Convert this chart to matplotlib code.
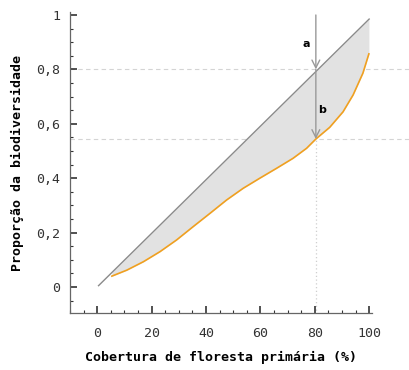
import matplotlib.pyplot as plt
from matplotlib.ticker import MultipleLocator, FuncFormatter

# diagonal reference line (proportional loss)
line_x = [0.5, 100]
line_y = [0.005, 0.985]

# observed curve
curve_x = [5.4, 10.9, 17.0, 23.1, 29.2, 35.3, 41.5, 47.6, 53.7, 59.8,
           65.9, 72.0, 77.0, 80.4, 85.5, 90.4, 94.1, 97.7, 99.9]
curve_y = [0.040, 0.062, 0.093, 0.130, 0.173, 0.222, 0.271, 0.320, 0.363, 0.400,
           0.436, 0.473, 0.510, 0.544, 0.587, 0.644, 0.706, 0.786, 0.857]

mark_x = 80.4
mark_top = 0.8
mark_low = 0.544

plt.rcParams['font.family'] = 'DejaVu Sans Mono'

fig = plt.figure(figsize=(4.1, 3.7), dpi=100)
ax = fig.add_axes([0.1707, 0.154, 0.7363, 0.8136])

# fill between diagonal and curve
diag = [line_y[0] + (x - line_x[0]) * (line_y[1] - line_y[0]) / (line_x[1] - line_x[0]) for x in curve_x]
ax.fill_between(curve_x, curve_y, diag, color='#e2e2e2', lw=0, zorder=1)
ax.plot(line_x, line_y, color='#8a8a8a', lw=1, zorder=3)
ax.plot(curve_x, curve_y, color='#f0a020', lw=1.2, zorder=3)

# reference lines
for yv in (mark_top, mark_low):
    ax.plot([-10, 115], [yv, yv], color='#d4d4d4', lw=0.8, ls=(0, (4, 3)), clip_on=False, zorder=0)
ax.plot([mark_x, mark_x], [-0.1, mark_low], color='#cfcfcf', lw=0.9, ls=(0, (1, 2)), zorder=0)

# arrows
arrow = dict(arrowstyle='->', color='#999999', lw=1, mutation_scale=14, shrinkA=0, shrinkB=0)
ax.annotate('', xy=(mark_x, mark_top), xytext=(mark_x, 1.0), arrowprops=arrow, zorder=4)
ax.annotate('', xy=(mark_x, mark_low), xytext=(mark_x, mark_top), arrowprops=arrow, zorder=4)
ax.text(77, 0.895, 'a', fontsize=8, fontweight='bold', family='DejaVu Sans', ha='center', va='center')
ax.text(82.8, 0.65, 'b', fontsize=8, fontweight='bold', family='DejaVu Sans', ha='center', va='center')

ax.set_xlim(-10, 101)
ax.set_ylim(-0.0956, 1.011)

ax.xaxis.set_major_locator(MultipleLocator(20))
ax.xaxis.set_minor_locator(MultipleLocator(5))
ax.yaxis.set_major_locator(MultipleLocator(0.2))
ax.yaxis.set_minor_locator(MultipleLocator(0.05))
ax.yaxis.set_major_formatter(FuncFormatter(lambda v, p: f"{v:.1f}".replace('.', ',') if abs(v - round(v)) > 1e-9 else f"{int(round(v))}"))

for s in ('top', 'right'):
    ax.spines[s].set_visible(False)
for s in ('left', 'bottom'):
    ax.spines[s].set_color('#666666')
    ax.spines[s].set_linewidth(0.9)

ax.tick_params(which='both', direction='in', colors='#333333', labelsize=9.5)
ax.tick_params(which='major', length=5, width=1.2)
ax.tick_params(which='minor', length=2.5, width=0.8)
ax.tick_params(axis='x', pad=10)
ax.tick_params(axis='y', pad=7)

ax.set_xlabel('Cobertura de floresta primária (%)', fontsize=9.5, fontweight='bold', labelpad=8)
ax.set_ylabel('Proporção da biodiversidade', fontsize=9.5, fontweight='bold', labelpad=9)

fig.savefig('out.png', dpi=100)
